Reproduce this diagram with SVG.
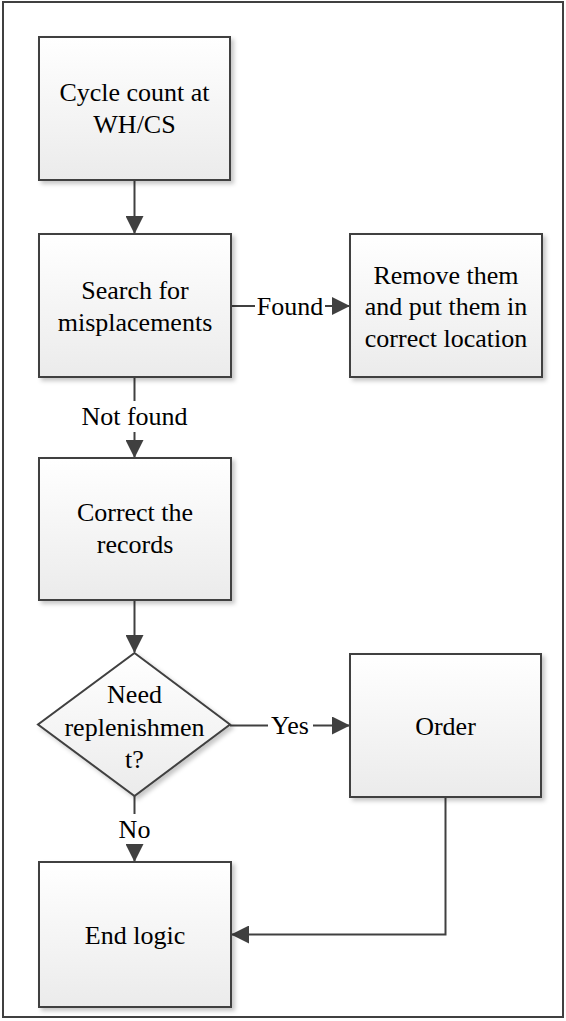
<svg xmlns="http://www.w3.org/2000/svg" width="566" height="1021" viewBox="0 0 566 1021">
  <style>
    .box { fill: url(#grad); stroke: #404040; stroke-width: 2; filter: url(#shadow); }
    text { font-size: 26px; fill: #000; text-anchor: middle; }
    .conn { fill: none; stroke: #404040; stroke-width: 2; }
  </style>
  <defs>
    <linearGradient id="grad" x1="0" y1="0" x2="0" y2="1">
      <stop offset="0" stop-color="#ffffff"/>
      <stop offset="1" stop-color="#ebebeb"/>
    </linearGradient>
    <filter id="shadow" x="-10%" y="-10%" width="125%" height="125%">
      <feDropShadow dx="3" dy="3" stdDeviation="2" flood-color="#000" flood-opacity="0.22"/>
    </filter>
    <marker id="arrow" viewBox="0 0 18 18" refX="17" refY="9" markerWidth="18" markerHeight="18" markerUnits="userSpaceOnUse" orient="auto">
      <path d="M0,0 L18,9 L0,18 Z" fill="#404040"/>
    </marker>
  </defs>
  <rect x="0" y="0" width="566" height="1021" fill="#ffffff"/>
  <rect x="3" y="2" width="560" height="1015" fill="none" stroke="#404040" stroke-width="2"/>

  <g font-family="Liberation Serif, DejaVu Serif, serif">
  <g id="connectors">
    <line class="conn" x1="134.5" y1="180" x2="134.5" y2="233" marker-end="url(#arrow)"/>
    <line class="conn" x1="231" y1="306" x2="255" y2="306"/>
    <line class="conn" x1="325" y1="306" x2="349" y2="306" marker-end="url(#arrow)"/>
    <text x="290" y="314.5">Found</text>
    <line class="conn" x1="134.5" y1="377" x2="134.5" y2="401"/>
    <line class="conn" x1="134.5" y1="432" x2="134.5" y2="457" marker-end="url(#arrow)"/>
    <text x="134.5" y="425">Not found</text>
    <line class="conn" x1="134.5" y1="600" x2="134.5" y2="652" marker-end="url(#arrow)"/>
    <line class="conn" x1="230" y1="725.5" x2="268" y2="725.5"/>
    <line class="conn" x1="313" y1="725.5" x2="349" y2="725.5" marker-end="url(#arrow)"/>
    <text x="290" y="734">Yes</text>
    <line class="conn" x1="134.5" y1="796" x2="134.5" y2="814"/>
    <line class="conn" x1="134.5" y1="845" x2="134.5" y2="861" marker-end="url(#arrow)"/>
    <text x="134.5" y="838">No</text>
    <polyline class="conn" points="445.5,797 445.5,934.5 232,934.5" marker-end="url(#arrow)"/>
  </g>

  <g id="cycle-count">
    <rect class="box" x="39" y="37" width="191" height="143"/>
    <text x="134.5" y="101">Cycle count at</text>
    <text x="134.5" y="133">WH/CS</text>
  </g>
  <g id="search">
    <rect class="box" x="39" y="234" width="192" height="143"/>
    <text x="135" y="299">Search for</text>
    <text x="135" y="331">misplacements</text>
  </g>
  <g id="remove">
    <rect class="box" x="350" y="234" width="192" height="143"/>
    <text x="446" y="283.5">Remove them</text>
    <text x="446" y="315">and put them in</text>
    <text x="446" y="346.5">correct location</text>
  </g>
  <g id="correct">
    <rect class="box" x="39" y="458" width="192" height="142"/>
    <text x="135" y="521">Correct the</text>
    <text x="135" y="553">records</text>
  </g>
  <g id="decision">
    <polygon class="box" points="134.5,653 230,724.5 134.5,796 38,724.5"/>
    <text x="134.5" y="703">Need</text>
    <text x="134.5" y="735.5">replenishmen</text>
    <text x="134.5" y="768">t?</text>
  </g>
  <g id="order">
    <rect class="box" x="350" y="654" width="191" height="143"/>
    <text x="445.5" y="735">Order</text>
  </g>
  <g id="end">
    <rect class="box" x="39" y="862" width="192" height="145"/>
    <text x="135" y="944">End logic</text>
  </g>
  </g>
</svg>
